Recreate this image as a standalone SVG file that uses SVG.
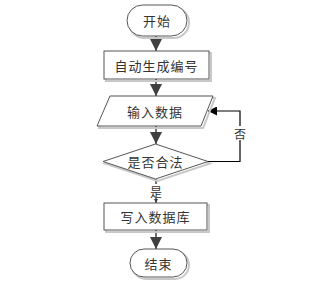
<svg xmlns="http://www.w3.org/2000/svg" width="320" height="285" viewBox="0 0 320 285">
<style>
.shape{fill:#fff;stroke:#555;stroke-width:1}
.shadow{fill:none;stroke:#c8c8c8;stroke-width:2}
.lbl{font-family:"Noto Sans CJK SC","Noto Sans",sans-serif;font-size:13px;fill:#333;text-anchor:middle;dominant-baseline:central;letter-spacing:1px}
.small{font-family:"Noto Sans CJK SC","Noto Sans",sans-serif;font-size:12px;fill:#333;text-anchor:middle;dominant-baseline:central}
.conn{fill:none;stroke:#404040;stroke-width:1.5}
.fb{fill:none;stroke:#000;stroke-width:1.2}
</style>
<defs>
<marker id="big" markerUnits="userSpaceOnUse" markerWidth="12" markerHeight="12" refX="10" refY="5" orient="auto" viewBox="0 0 10 10">
<path d="M0,0 L10,5 L0,10 z" fill="#404040"/>
</marker>
<marker id="blk" markerUnits="userSpaceOnUse" markerWidth="9" markerHeight="9" refX="10" refY="5" orient="auto" viewBox="0 0 10 10">
<path d="M0,0 L10,5 L0,10 z" fill="#000"/>
</marker>
<marker id="tiny" markerUnits="userSpaceOnUse" markerWidth="4" markerHeight="4" refX="10" refY="5" orient="auto" viewBox="0 0 10 10">
<path d="M0,0 L10,5 L0,10 z" fill="#404040"/>
</marker>
</defs>
<g id="connectors">
<line class="conn" x1="156" y1="36" x2="156" y2="51" marker-end="url(#big)"/>
<line class="conn" x1="156" y1="79" x2="156" y2="96" marker-end="url(#big)"/>
<line class="conn" x1="156" y1="126" x2="156" y2="144" marker-end="url(#big)"/>
<line class="conn" x1="156" y1="179" x2="156" y2="203" stroke-width="1" marker-end="url(#tiny)"/>
<line class="conn" x1="156" y1="230" x2="156" y2="249" marker-end="url(#big)"/>
<polyline class="fb" points="208,161.5 240,161.5 240,111 208,111" marker-end="url(#blk)"/>
<rect x="149" y="184" width="14" height="14" fill="#fff"/>
<text class="small" x="156" y="191">是</text>
<rect x="233" y="126" width="14" height="14" fill="#fff"/>
<text class="small" x="240" y="133">否</text>
</g>
<g id="start">
<rect class="shadow" x="129" y="7" width="60" height="31" rx="15.5"/>
<rect class="shape" x="127" y="5" width="60" height="31" rx="15.5"/>
<text class="lbl" x="157" y="20.5">开始</text>
</g>
<g id="gen">
<rect class="shadow" x="106" y="53" width="105" height="28"/>
<rect class="shape" x="104" y="51" width="105" height="28"/>
<text class="lbl" x="156.5" y="65">自动生成编号</text>
</g>
<g id="input">
<polygon class="shadow" points="112,98 215,98 203,128 99,128"/>
<polygon class="shape" points="110,96 213,96 201,126 97,126"/>
<text class="lbl" x="155" y="111">输入数据</text>
</g>
<g id="check">
<polygon class="shadow" points="157.5,146 210,163.5 157.5,181 105,163.5"/>
<polygon class="shape" points="155.5,144 208,161.5 155.5,179 103,161.5"/>
<text class="lbl" x="155.5" y="161.5">是否合法</text>
</g>
<g id="write">
<rect class="shadow" x="106" y="205" width="103" height="27"/>
<rect class="shape" x="104" y="203" width="103" height="27"/>
<text class="lbl" x="155.5" y="216.5">写入数据库</text>
</g>
<g id="end">
<rect class="shadow" x="132" y="251" width="57" height="28" rx="14"/>
<rect class="shape" x="130" y="249" width="57" height="28" rx="14"/>
<text class="lbl" x="158.5" y="263">结束</text>
</g>
</svg>
